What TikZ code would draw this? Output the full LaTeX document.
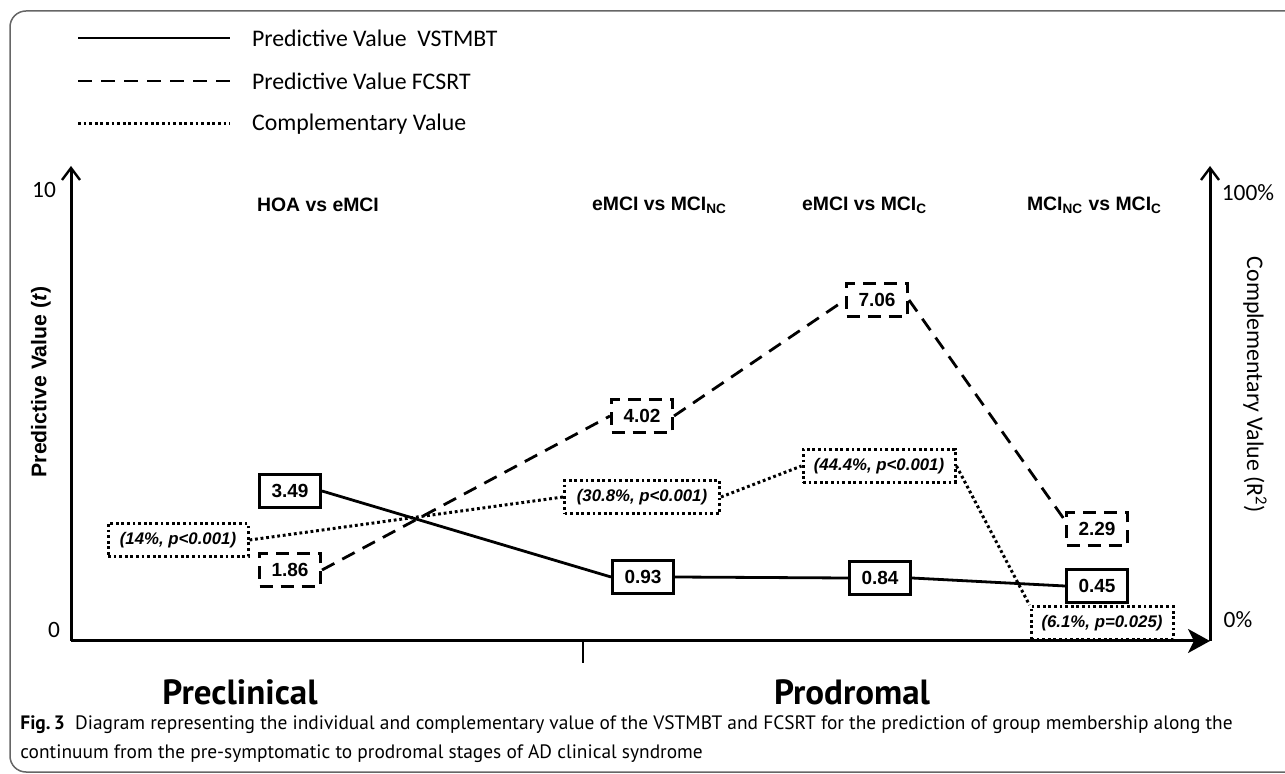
\documentclass[tikz,border=0pt]{standalone}
\usepackage{fontspec}
\setmainfont{Carlito}
\newfontfamily\arialfont{Liberation Sans}
\newfontfamily\capfont{PT Sans}
\usetikzlibrary{calc,arrows.meta}

\begin{document}
\begin{tikzpicture}[x=0.5pt,y=-0.5pt,
    axisline/.style={line width=1.5pt},
    vline/.style={line width=1.4pt},
    fline/.style={line width=1.4pt,dash pattern=on 7pt off 4.5pt},
    cline/.style={line width=1.5pt,dash pattern=on 1.4pt off 1.4pt},
    valbox/.style={draw,line width=1.5pt,minimum width=30.5pt,minimum height=16.5pt,inner sep=0pt,
        font=\arialfont\bfseries\fontsize{9.5}{11}\selectfont},
    solidbox/.style={valbox},
    dashbox/.style={valbox,dash pattern=on 6.5pt off 4pt},
    dotbox/.style={valbox,dash pattern=on 1.4pt off 1.4pt,
        font=\arialfont\bfseries\itshape\fontsize{8.4}{10}\selectfont},
    grouplabel/.style={font=\arialfont\bfseries\fontsize{9.7}{11}\selectfont},
    ticklabel/.style={font=\fontsize{11.7}{13}\selectfont},
    legendtext/.style={anchor=west,font=\fontsize{11.9}{13}\selectfont},
    phase/.style={font=\capfont\bfseries\fontsize{17.5}{19}\selectfont}]
    \useasboundingbox (0,0) rectangle (1285,774);
    % frame of the figure
    \draw[gray!80!black,line width=0.75pt,rounded corners=8pt] (1300,11) -- (10,11) -- (10,772) -- (1300,772);

    % legend
    \foreach \sty/\txt [count=\i] in {vline/Predictive Value\ \ VSTMBT,fline/Predictive Value FCSRT,cline/Complementary Value}{
        \pgfmathsetmacro\ly{38+43*(\i-1)}
        \coordinate (L\i a) at (78,\ly);
        \coordinate (L\i b) at (230,\ly);
        \draw[\sty] (L\i a) -- (L\i b);
        \node[legendtext] (T\i) at (245,\ly) {\txt};
    }

    % axes
    \coordinate (O) at (71,641);
    \coordinate (Ytop) at (71,166);
    \coordinate (R) at (1210,641);
    \coordinate (Rtop) at (1210,166);
    \coordinate (Tick) at (583,663);
    \draw[axisline,-{Straight Barb[length=6pt,width=9pt,line width=1.2pt]}] (O) -- (Ytop);
    \draw[axisline,-{Straight Barb[length=6pt,width=9pt,line width=1.2pt]}] (R) -- (Rtop);
    \draw[axisline,-{Stealth[length=11pt,width=12pt,inset=3pt]}] (O) -- (R);
    \draw[line width=1.2pt] (O -| Tick) -- (Tick);

    \node[ticklabel] (y10) at (44,190) {10};
    \node[ticklabel] (y0) at (54,630) {0};
    \node[ticklabel] (r100) at (1248,193) {100\%};
    \node[ticklabel] (r0) at (1238,620) {0\%};
    \node[rotate=90,font=\arialfont\bfseries\fontsize{10.6}{12}\selectfont] (ylab) at (41,382) {Predictive Value (\textit{t})};
    \node[rotate=-90,font=\fontsize{11.9}{13}\selectfont] (rlab) at (1255,385) {Complementary Value (R\textsuperscript{2})};

    % group comparisons
    \node[grouplabel,anchor=west] (G1) at (250,205) {HOA vs eMCI};
    \node[grouplabel,anchor=west] (G2) at (585,205) {eMCI vs MCI\textsubscript{NC}};
    \node[grouplabel,anchor=west] (G3) at (795,205) {eMCI vs MCI\textsubscript{C}};
    \node[grouplabel,anchor=west] (G4) at (1020,205) {MCI\textsubscript{NC} vs MCI\textsubscript{C}};

    % VSTMBT
    \foreach \val/\x/\y [count=\i] in {3.49/290/491,0.93/643/577,0.84/880/578,0.45/1097/586}
        \node[solidbox] (V\i) at (\x,\y) {\val};
    % FCSRT
    \foreach \val/\x/\y [count=\i] in {1.86/290/570,4.02/642/416,7.06/877/300,2.29/1097/529}
        \node[dashbox] (F\i) at (\x,\y) {\val};
    % complementary
    \foreach \val/\x/\y/\w [count=\i] in {{(14\%, p<0.001)}/178/540/70,{(30.8\%, p<0.001)}/642/497/77.5,{(44.4\%, p<0.001)}/879/466/76,{(6.1\%, p=0.025)}/1102/623/71}
        \node[dotbox,minimum width=\w pt] (C\i) at (\x,\y) {\val};

    \foreach \i [count=\j from 2] in {1,2,3}{
        \draw[vline] (V\i.east) -- (V\j.west);
    }
    \draw[fline] (F1.east) -- (F2.west);
    \draw[fline] (F2.east) -- (F3.west);
    \draw[fline] (F3.east) -- (F4.165);
    \draw[cline] (C1.east) -- (C2.west);
    \draw[cline] (C2.east) -- (C3.west);
    \draw[cline] (C3.east) -- (C4.north west);

    % stages
    \node[phase] (pre) at (240,692) {Preclinical};
    \node[phase] (pro) at (852,692) {Prodromal};

    % caption
    \node[anchor=north west,align=left,inner sep=0pt,font=\capfont\fontsize{9.7}{14.5}\selectfont] (cap) at (20,715)
        {\textbf{Fig.\,3}\ \ Diagram representing the individual and complementary value of the VSTMBT and FCSRT for the prediction of group membership along the\\
        continuum from the pre-symptomatic to prodromal stages of AD clinical syndrome};
\end{tikzpicture}
\end{document}
